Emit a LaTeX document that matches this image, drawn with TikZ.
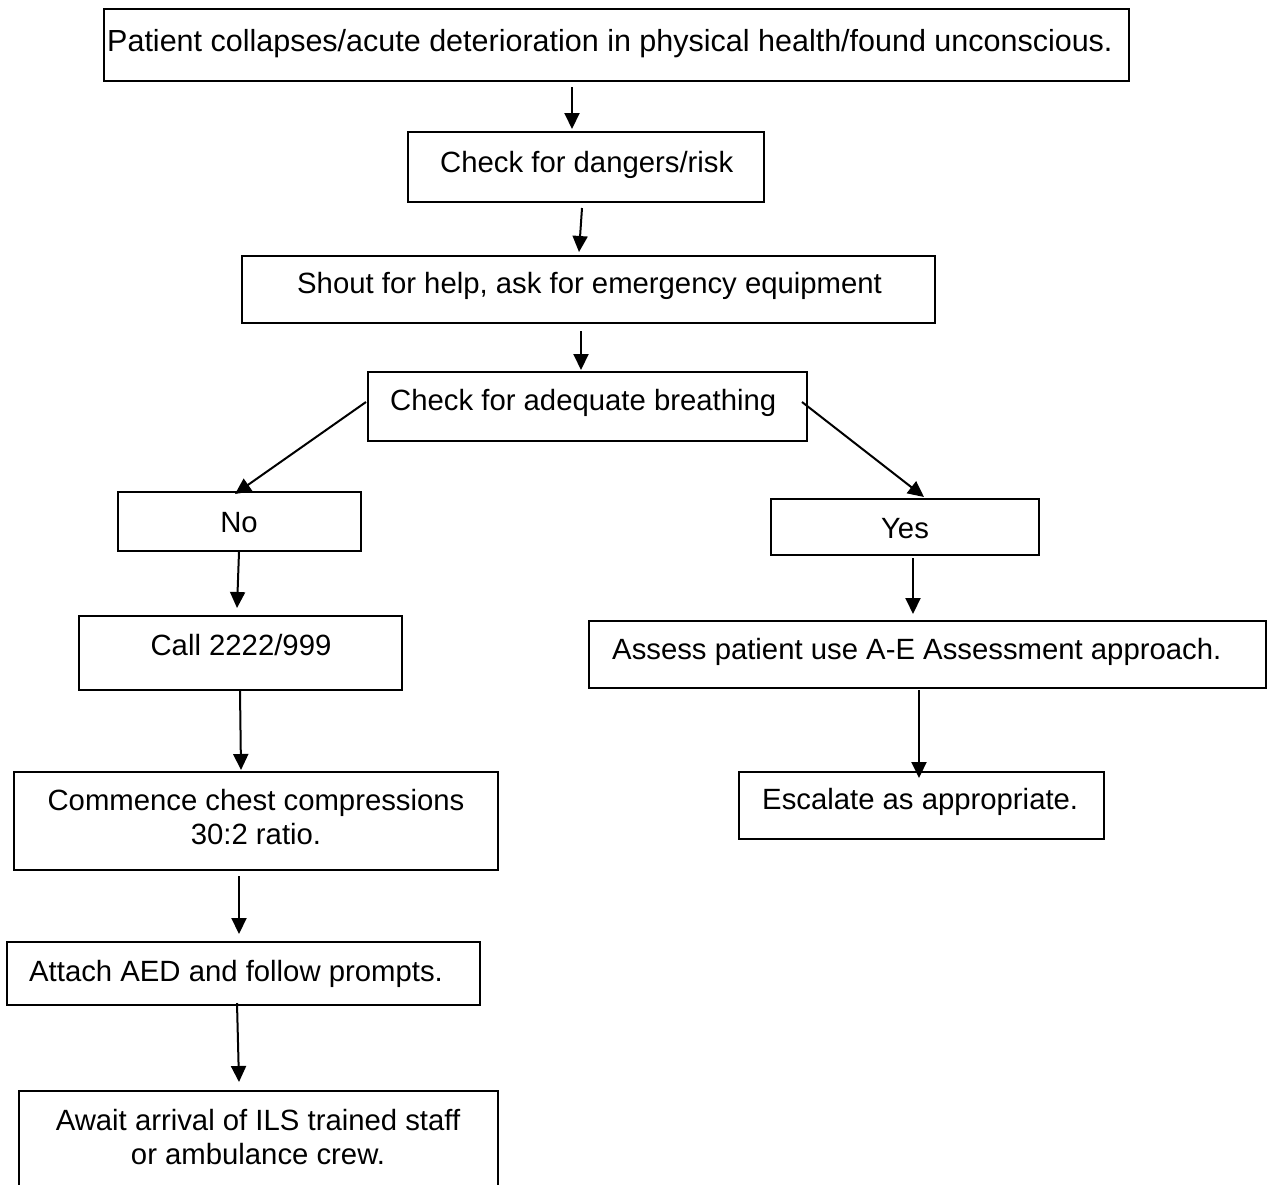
\documentclass[tikz,border=0pt]{standalone}
\usepackage{fontspec}
\setmainfont{Liberation Sans}
\usetikzlibrary{arrows.meta,calc}
\begin{document}
\begin{tikzpicture}[x=1pt,y=-1pt,
  box/.style={draw, line width=2pt, inner sep=0pt, rectangle},
  txt/.style={inner sep=0pt, font=\fontsize{29.3pt}{34pt}\selectfont},
  arr/.style={line width=2pt, -{Triangle[length=16pt,width=15pt]}}]
\useasboundingbox (0,0) rectangle (1273,1184);
\fill[white] (0,0) rectangle (1273,1184);
% boxes
\node[box, minimum width=1025pt, minimum height=72pt] (b1) at (616.5,45) {};
\node[box, minimum width=356pt, minimum height=70pt] (b2) at (586,167) {};
\node[box, minimum width=693pt, minimum height=67pt] (b3) at (588.5,289.5) {};
\node[box, minimum width=439pt, minimum height=69pt] (b4) at (587.5,406.5) {};
\node[box, minimum width=243pt, minimum height=59pt] (no) at (239.5,521.5) {};
\node[box, minimum width=268pt, minimum height=56pt] (yes) at (905,527) {};
\node[box, minimum width=323pt, minimum height=74pt] (call) at (240.5,653) {};
\node[box, minimum width=484pt, minimum height=98pt] (comm) at (256,821) {};
\node[box, minimum width=473pt, minimum height=63pt] (aed) at (243.5,973.5) {};
\node[box, minimum width=479pt, minimum height=109pt] (await) at (258.5,1145.5) {};
\node[box, minimum width=677pt, minimum height=67pt] (assess) at (927.5,654.5) {};
\node[box, minimum width=365pt, minimum height=67pt] (esc) at (921.5,805.5) {};
% texts
\node[txt, anchor=base west, font=\fontsize{30.5pt}{35pt}\selectfont] (b1t) at (107,51) {Patient collapses/acute deterioration in physical health/found unconscious.};
\node[txt, anchor=base west] (b2t) at (440,172) {Check for dangers/risk};
\node[txt, anchor=base west] (b3t) at (297,293) {Shout for help, ask for emergency equipment};
\node[txt, anchor=base west] (b4t) at (390,410) {Check for adequate breathing};
\node[txt, anchor=base] (not) at (239,532) {No};
\node[txt, anchor=base] (yest) at (905,538) {Yes};
\node[txt, anchor=base] (callt) at (241,655) {Call 2222/999};
\node[txt, anchor=base, align=center] (commt) at (256,844) {Commence chest compressions\\30:2 ratio.};
\node[txt, anchor=base west] (aedt) at (29,981) {Attach AED and follow prompts.};
\node[txt, anchor=base, align=center] (awaitt) at (258,1164) {Await arrival of ILS trained staff\\or ambulance crew.};
\node[txt, anchor=base west] (assesst) at (612,659) {Assess patient use A-E Assessment approach.};
\node[txt, anchor=base west] (esct) at (762,809) {Escalate as appropriate.};
% connectors
\draw[arr] ($(b1.south)+(-44.5,5)$) -- ($(b2.north)+(-14,-2)$);
\draw[arr] ($(b2.south)+(-4,5)$) -- ($(b3.north)+(-9.5,-3)$);
\draw[arr] ($(b3.south)+(-7.5,7)$) -- ($(b4.north)+(-6.5,-1)$);
\draw[arr] ($(b4.west)+(-1,-4.5)$) -- ($(no.north)+(-4.5,3)$);
\draw[arr] ($(b4.east)+(-6,-4.5)$) -- ($(yes.north)+(19,-1)$);
\draw[arr] ($(no.south)+(-0.5,0)$) -- ($(call.north)+(-3.5,-7)$);
\draw[arr] ($(call.south)+(-0.5,0)$) -- ($(comm.north)+(-15,-1)$);
\draw[arr] ($(comm.south)+(-17,5)$) -- ($(aed.north)+(-4.5,-7)$);
\draw[arr] ($(aed.south)+(-6.5,-3)$) -- ($(await.north)+(-19.5,-8)$);
\draw[arr] ($(yes.south)+(8,2)$) -- ($(assess.north)+(-14.5,-6)$);
\draw[arr] ($(assess.south)+(-8.5,1)$) -- ($(esc.north)+(-2.5,7)$);
\end{tikzpicture}
\end{document}
